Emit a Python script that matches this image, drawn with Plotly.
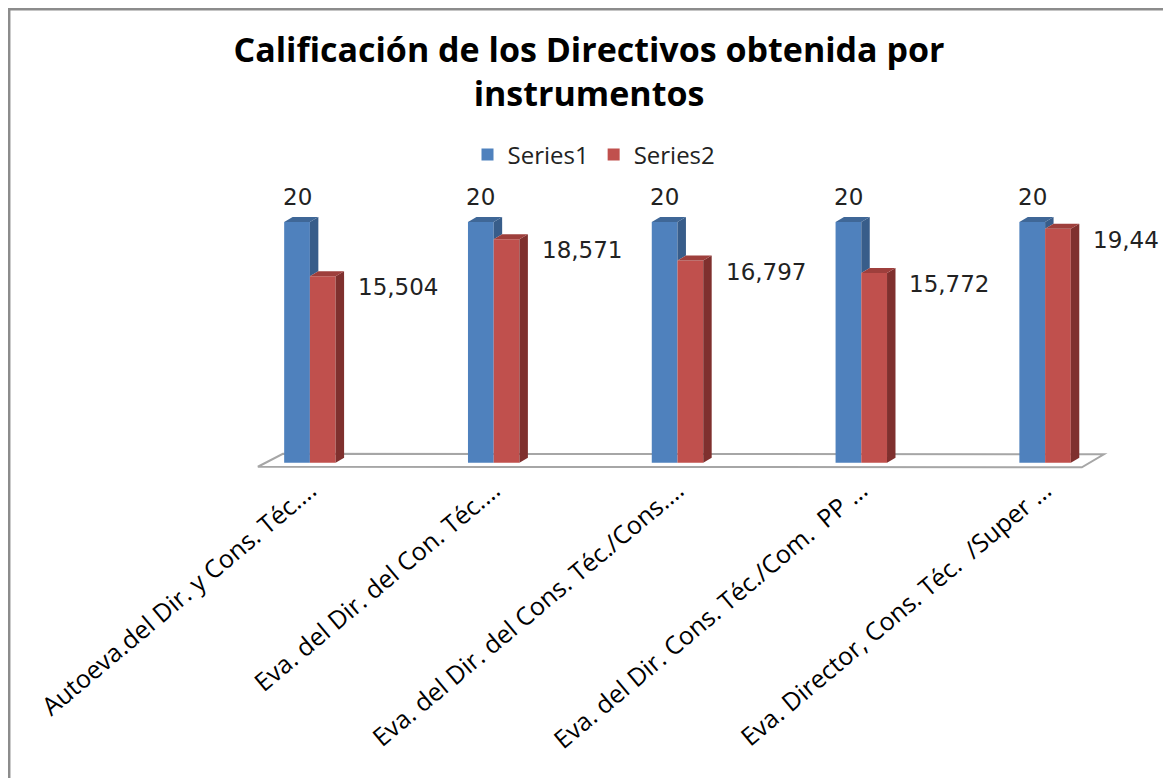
import plotly.graph_objects as go

# ---------------- data ----------------
categories = [
    "Autoeva.del Dir. y Cons. Téc....",
    "Eva. del Dir. del Con. Téc....",
    "Eva. del Dir. del Cons. Téc./Cons....",
    "Eva. del Dir. Cons. Téc./Com.  PP ...",
    "Eva. Director, Cons. Téc.  /Super ...",
]
series1 = [20, 20, 20, 20, 20]
series2 = [15.504, 18.571, 16.797, 15.772, 19.44]
series_names = ["Series1", "Series2"]
title_text = "Calificación de los Directivos obtenida por<br>instrumentos"

# ---------------- style ----------------
W, H = 1171, 778
OFF = 8  # page body margin: screen px = figure px + OFF
M_L, M_R, M_T, M_B = 218 - OFF, 34 + OFF, 198 - OFF, 308 + OFF
Y_MIN, Y_MAX = -0.6, 22.0
BAR_W = 0.14           # bar width in category units
DX, DY = 0.046, 0.42   # 3D depth offsets (data units)
C1_FRONT, C1_SIDE, C1_TOP = "#4F81BD", "#385D8A", "#3F6797"
C2_FRONT, C2_SIDE, C2_TOP = "#C0504D", "#7F302E", "#9E3F3C"

xs = list(range(len(categories)))
fmt = lambda v: (("%g" % v).replace(".", ","))

fig = go.Figure()

# front faces (real bar traces)
fig.add_trace(go.Bar(x=xs, y=series1, name=series_names[0], width=BAR_W,
                     offset=-BAR_W, marker=dict(color=C1_FRONT, line=dict(width=0))))
fig.add_trace(go.Bar(x=xs, y=series2, name=series_names[1], width=BAR_W,
                     offset=0, marker=dict(color=C2_FRONT, line=dict(width=0))))


def poly(xp, yp, color):
    fig.add_trace(go.Scatter(x=xp + [xp[0]], y=yp + [yp[0]], mode="lines",
                             fill="toself", fillcolor=color,
                             line=dict(width=0, color=color),
                             hoverinfo="skip", showlegend=False))


# 3D side and top faces derived from the data
for x, b, r in zip(xs, series1, series2):
    bx0, bx1 = x - BAR_W, x
    rx0, rx1 = x, x + BAR_W
    poly([bx1, bx1 + DX, bx1 + DX, bx1], [r, r + DY, b + DY, b], C1_SIDE)
    poly([bx0, bx0 + DX, bx1 + DX, bx1], [b, b + DY, b + DY, b], C1_TOP)
    poly([rx1, rx1 + DX, rx1 + DX, rx1], [0, DY, r + DY, r], C2_SIDE)
    poly([rx0, rx0 + DX, rx1 + DX, rx1], [r, r + DY, r + DY, r], C2_TOP)

LABEL_FONT = dict(family="DejaVu Sans", size=23, color="#222")
annotations = []
for x, b, r in zip(xs, series1, series2):
    annotations.append(dict(x=x - BAR_W / 2, y=b, xref="x", yref="y",
                            text=fmt(b), showarrow=False, yshift=25,
                            xanchor="center", yanchor="middle", font=LABEL_FONT))
    annotations.append(dict(x=x + BAR_W + DX, y=r, xref="x", yref="y",
                            text=fmt(r), showarrow=False, xshift=12, yshift=-11,
                            xanchor="left", yanchor="middle", font=LABEL_FONT))

pw = W - M_L - M_R
ph = H - M_T - M_B


def px_x(screen_px):
    return (screen_px - OFF - M_L) / pw


def px_y(screen_px):
    return (H - M_B - (screen_px - OFF)) / ph


shapes = [
    # 3D floor
    dict(type="path", xref="x", yref="y", layer="below",
         path="M -0.283,-0.33 L 4.20,-0.38 L 4.32,0.7 L -0.147,0.75 Z",
         line=dict(color="#A6A6A6", width=2), fillcolor="white"),
    # chart border
    dict(type="rect", xref="paper", yref="paper",
         x0=px_x(OFF + 1.2), x1=px_x(W + 40), y0=px_y(H + 40), y1=px_y(OFF + 1.2),
         line=dict(color="#8C8C8C", width=2.5), fillcolor="rgba(0,0,0,0)"),
]

fig.update_layout(
    width=W, height=H,
    margin=dict(l=M_L, r=M_R, t=M_T, b=M_B),
    paper_bgcolor="white", plot_bgcolor="rgba(0,0,0,0)",
    barmode="overlay",
    title=dict(text=title_text, x=(589 - OFF) / W, xanchor="center",
               y=1 - (62 - OFF) / H, yanchor="middle",
               xref="container", yref="container",
               font=dict(family="Open Sans", size=34, color="black", weight="bold")),
    showlegend=True,
    legend=dict(orientation="h", x=px_x(594), xanchor="center",
                y=px_y(155), yanchor="middle", itemwidth=30,
                font=dict(family="Open Sans", size=24, color="#222"),
                bgcolor="rgba(0,0,0,0)", traceorder="normal"),
    xaxis=dict(range=[-0.5, 4.5], tickmode="array", tickvals=xs,
               ticktext=categories, tickangle=-40, showgrid=False,
               zeroline=False, showline=False, ticks="",
               tickfont=dict(family="Open Sans", size=25, color="black")),
    yaxis=dict(range=[Y_MIN, Y_MAX], visible=False, showgrid=False, zeroline=False),
    annotations=annotations,
    shapes=shapes,
)

fig.write_html("out.html")
